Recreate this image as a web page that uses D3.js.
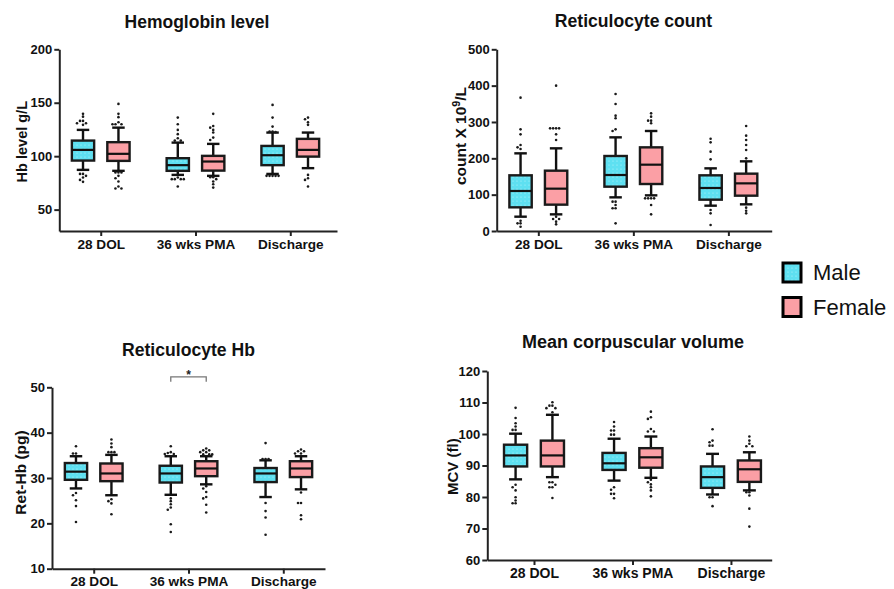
<!DOCTYPE html>
<html>
<head>
<meta charset="utf-8">
<script src="https://cdn.jsdelivr.net/npm/d3@7"></script>
<style>
body{margin:0;background:#fff}
svg text{font-family:"Liberation Sans",Arial,Helvetica,sans-serif}
</style>
</head>
<body>
<svg id="chart" width="894" height="589"></svg>
<script>
var categories = ["28 DOL", "36 wks PMA", "Discharge"];
var sexes = ["Male", "Female"];

// box stats per category: [low whisker, Q1, median, Q3, high whisker]
var hbMale   = [[87.2,95.9,105.9,114.6,124.6],[82.5,86.3,91.6,98.1,112.7],[83.4,91.6,100.9,109.6,122.1]];
var hbFemale = [[86.3,95.6,102.2,113.1,126.7],[81.6,86.5,95.0,100.3,111.5],[88.8,99.6,105.9,116.2,122.1]];
var hbMaleDots = [
  [139.6,137,133,133,130.8,130.8,129.3,83.4,83.4,81.6,80,77.8,76],
  [136.1,129.9,124.6,120.6,116.8,114.6,114.6,80,78.5,78.5,78.5,78.5,71.6],
  [148,136.1,127.7,123,123,122.5,81.6,81.6,81.6,81.6,81.6]];
var hbFemaleDots = [
  [148.9,139.6,136.5,131.8,129.9,129.9,129.9,84.7,84.7,84.7,81.6,79.4,76.3,71.6,69.7,69.7],
  [139.6,128.3,126.7,124.6,122.1,117.4,115.2,80.4,80.4,78.5,76.3,73.8,70.6],
  [136.1,134.6,131.8,129.3,82.5,79.4,77.8,71.6]];
var hbTicks = [50, 100, 150, 200];

var retMale   = [[39.4,65.1,110.1,153.2,213.7],[92.6,122,154.1,206.4,257.7],[69.7,86.2,118.3,153.2,172.4]];
var retFemale = [[45.8,72.5,116.5,166,227.5],[98.1,129.3,182.5,230.2,275.2],[73.4,97.2,131.1,157.8,191.7]];
var retMaleDots = [
  [366.9,279.7,266,236.7,230.2,225.7,28.4,21.1,21.1,11.9],
  [377,349.5,317.4,310.1,279.7,275.2,80.7,80.7,71.5,62.4,62.4,21.1],
  [254,244,218.3,197.2,57.8,48.6,16.5]];
var retFemaleDots = [
  [400,282.5,282.5,282.5,282.5,266,250.4,39.5,33,33,25.7,18.3],
  [323.8,314.7,303.6,303.6,296.3,89.9,89.9,89.9,89.9,71.5,45.8],
  [289,262.4,250.4,236.7,222.9,199.9,64.2,55.9,48.6]];
var retTicks = [0, 100, 200, 300, 400, 500];

var rhbMale   = [[27.7,29.6,31.4,33.3,34.8],[26.3,29.0,31.0,32.7,34.8],[25.8,29.1,31.0,32.2,33.9]];
var rhbFemale = [[26.2,29.3,31.0,33.2,35.1],[28.6,30.4,32.1,33.7,34.8],[27.5,30.2,32.1,33.7,34.8]];
var rhbMaleDots = [
  [37.0,35.4,35.4,26.7,26.2,25.1,23.8,20.3],
  [37.0,35.7,35.5,35.3,35.3,25.5,24.9,24.2,23.5,23.0,19.8,18.1],
  [37.7,34.2,34.2,34.2,24.5,22.7,21.3,17.5]];
var rhbFemaleDots = [
  [38.5,37.6,36.8,35.7,35.7,35.7,25.3,24.9,24.4,22.0],
  [36.5,36.1,36.1,35.7,35.7,35.2,35.2,35.2,28.2,27.7,26.9,25.8,25.5,24.1,22.4],
  [36.3,35.9,35.9,35.4,35.4,26.8,24.5,24.5,21.8,20.9]];
var rhbTicks = [10, 20, 30, 40, 50];

var mcvMale   = [[85.6,89.7,93.2,96.6,100.1],[85.2,88.6,90.7,94.0,98.5],[80.8,82.9,86.3,89.7,93.7]];
var mcvFemale = [[86.3,89.7,93.2,97.9,106.1],[86.1,89.3,92.6,95.5,99.2],[82.1,84.8,88.8,91.6,94.2]];
var mcvMaleDots = [
  [108.3,105.1,103.4,102.4,101.3,101.3,83.9,83.1,82.1,79.9,78.9,78.0,78.0],
  [103.8,102.4,101.1,101.1,99.8,99.8,83.1,82.3,81.0,81.0,79.6],
  [101.5,97.9,97.4,96.3,96.3,79.9,79.9,77.1]];
var mcvFemaleDots = [
  [110.1,109,109,108.2,108.2,106.9,84.7,84.7,83.9,83.1,83.1,79.7],
  [107.1,105.3,104.8,101.6,100.8,100.8,85.5,84.7,84.0,83.1,82.1,80.2],
  [99.2,97.9,96.9,96.1,96.1,81.5,81.5,80.5,76.3,70.6]];
var mcvTicks = [60, 70, 80, 90, 100, 110, 120];

var maleColor = "#5ee0f1";
var femaleColor = "#fb9fa5";

var svg = d3.select("#chart");

var defs = svg.append("defs");
var pat = defs.append("pattern")
    .attr("id", "maleFill")
    .attr("width", 4).attr("height", 4)
    .attr("patternUnits", "userSpaceOnUse");
pat.append("rect").attr("width", 4).attr("height", 4).attr("fill", maleColor);
pat.append("circle").attr("cx", 1).attr("cy", 1).attr("r", 0.6)
    .attr("fill", "#ffffff").attr("opacity", 0.55);

var panels = [
  {title:"Hemoglobin level", yTitle:["Hb level g/L"], male:hbMale, female:hbFemale,
   maleDots:hbMaleDots, femaleDots:hbFemaleDots, domain:[30,200], ticks:hbTicks,
   x0:59.3, x1:337, yTop:49.3, yBot:231, pad:0.465, align:0.47,
   titleSize:17.5, titleX:197, titleY:27.7, yTitleSize:14.5, yTitleX:26.7, yTitleY:141.7, xLabelSize:13.6},
  {title:"Reticulocyte count", yTitle:["count X 10","9","/L"], male:retMale, female:retFemale,
   maleDots:retMaleDots, femaleDots:retFemaleDots, domain:[0,500], ticks:retTicks,
   x0:496.7, x1:771.7, yTop:49.3, yBot:231, pad:0.447, align:0.49,
   titleSize:17.6, titleX:633.5, titleY:26.8, yTitleSize:15.5, yTitleX:465.5, yTitleY:136, xLabelSize:13.6},
  {title:"Reticulocyte Hb", yTitle:["Ret-Hb (pg)"], male:rhbMale, female:rhbFemale,
   maleDots:rhbMaleDots, femaleDots:rhbFemaleDots, domain:[10,50], ticks:rhbTicks,
   x0:52, x1:325, yTop:387.3, yBot:568.7, pad:0.44, align:0.5,
   titleSize:17.6, titleX:188.5, titleY:356, yTitleSize:15.5, yTitleX:26.3, yTitleY:472.5, xLabelSize:13.6},
  {title:"Mean corpuscular volume", yTitle:["MCV (fl)"], male:mcvMale, female:mcvFemale,
   maleDots:mcvMaleDots, femaleDots:mcvFemaleDots, domain:[60,120], ticks:mcvTicks,
   x0:487.3, x1:771.7, yTop:371, yBot:560, pad:0.444, align:0.534,
   titleSize:18, titleX:633, titleY:347.5, yTitleSize:15, yTitleX:457.5, yTitleY:466.7, xLabelSize:14}
];

// place dots of equal height side by side (deterministic, no randomness)
var swarm = function(values, yScale, cx)
{
    var placed = [];
    var offsets = [0, -3, 3, -6, 6, -9, 9];
    values.forEach(function(v)
    {
        var y = yScale(v);
        for (var k = 0; k < offsets.length; k++)
        {
            var x = cx + offsets[k];
            var hit = placed.some(function(p){ return Math.abs(p.x - x) < 2.6 && Math.abs(p.y - y) < 2.6; });
            if (!hit || k == offsets.length - 1) { placed.push({x:x, y:y}); break; }
        }
    });
    return placed;
}

var drawPanel = function(p)
{
    var g = svg.append("g");

    var xScale = d3.scalePoint()
        .domain(categories)
        .range([p.x0, p.x1])
        .padding(p.pad)
        .align(p.align);

    var yScale = d3.scaleLinear()
        .domain(p.domain)
        .range([p.yBot, p.yTop]);

    var step = xScale.step();
    var boxW = step * 0.235;
    var shift = step * 0.187;
    var capW = boxW * 0.28;

    var groups = [
        {sex:"Male", stats:p.male, dots:p.maleDots, dx:-shift, fill:"url(#maleFill)"},
        {sex:"Female", stats:p.female, dots:p.femaleDots, dx:shift, fill:femaleColor}
    ];

    groups.forEach(function(s)
    {
        categories.forEach(function(c, i)
        {
            var st = s.stats[i];
            var cx = xScale(c) + s.dx;
            var b = g.append("g");

            // whiskers
            b.append("line").attr("x1", cx).attr("x2", cx)
                .attr("y1", yScale(st[0])).attr("y2", yScale(st[1]))
                .attr("stroke", "#111").attr("stroke-width", 2.4);
            b.append("line").attr("x1", cx).attr("x2", cx)
                .attr("y1", yScale(st[3])).attr("y2", yScale(st[4]))
                .attr("stroke", "#111").attr("stroke-width", 2.4);
            [st[0], st[4]].forEach(function(v)
            {
                b.append("line").attr("x1", cx - capW).attr("x2", cx + capW)
                    .attr("y1", yScale(v)).attr("y2", yScale(v))
                    .attr("stroke", "#111").attr("stroke-width", 2.4);
            });

            b.append("rect")
                .attr("x", cx - boxW / 2)
                .attr("y", yScale(st[3]))
                .attr("width", boxW)
                .attr("height", yScale(st[1]) - yScale(st[3]))
                .attr("fill", s.fill)
                .attr("stroke", "#1a1a1a")
                .attr("stroke-width", 2.4);

            b.append("line").attr("x1", cx - boxW / 2).attr("x2", cx + boxW / 2)
                .attr("y1", yScale(st[2])).attr("y2", yScale(st[2]))
                .attr("stroke", "#111").attr("stroke-width", 2.2);

            b.selectAll("circle")
                .data(swarm(s.dots[i], yScale, cx))
                .enter()
                .append("circle")
                .attr("cx", function(d){ return d.x; })
                .attr("cy", function(d){ return d.y; })
                .attr("r", 1.3)
                .attr("fill", "#1a1a1a");
        });
    });

    var yAxis = d3.axisLeft(yScale).tickValues(p.ticks).tickSize(5).tickSizeOuter(0).tickPadding(2);
    var xAxis = d3.axisBottom(xScale).tickSize(5).tickSizeOuter(0).tickPadding(3);

    var ya = g.append("g")
        .attr("transform", "translate(" + p.x0 + ",0)")
        .call(yAxis);
    var xa = g.append("g")
        .attr("transform", "translate(0," + p.yBot + ")")
        .call(xAxis);

    [ya, xa].forEach(function(a)
    {
        a.select(".domain").attr("stroke", "#222").attr("stroke-width", 2);
        a.selectAll(".tick line").attr("stroke", "#222").attr("stroke-width", 2);
        a.selectAll("text").attr("fill", "#111").style("font-weight", "bold")
            .style("font-family", "'Liberation Sans', Arial, sans-serif");
    });
    ya.selectAll("text").style("font-size", "13px");
    xa.selectAll("text").style("font-size", p.xLabelSize + "px");

    g.append("text")
        .attr("x", p.titleX).attr("y", p.titleY)
        .attr("text-anchor", "middle")
        .style("font-weight", "bold")
        .style("font-size", p.titleSize + "px")
        .attr("fill", "#111")
        .text(p.title);

    var yt = g.append("text")
        .attr("transform", "translate(" + p.yTitleX + "," + p.yTitleY + ") rotate(-90)")
        .attr("text-anchor", "middle")
        .style("font-weight", "bold")
        .style("font-size", p.yTitleSize + "px")
        .attr("fill", "#111");
    yt.append("tspan").text(p.yTitle[0]);
    if (p.yTitle.length > 1)
    {
        yt.append("tspan").attr("dy", -6).style("font-size", (p.yTitleSize * 0.7) + "px").text(p.yTitle[1]);
        yt.append("tspan").attr("dy", 6).text(p.yTitle[2]);
    }

    return {x:xScale, y:yScale, shift:shift};
}

var scales = panels.map(drawPanel);

// significance bracket, Reticulocyte Hb at 36 wks PMA
var sp = scales[2];
var bx1 = sp.x(categories[1]) - sp.shift;
var bx2 = sp.x(categories[1]) + sp.shift;
var by = sp.y(52.3);
svg.append("path")
    .attr("d", "M" + bx1 + "," + (by + 5) + "V" + by + "H" + bx2 + "V" + (by + 5))
    .attr("fill", "none").attr("stroke", "#777").attr("stroke-width", 1.3);
svg.append("text")
    .attr("x", (bx1 + bx2) / 2).attr("y", by + 2)
    .attr("text-anchor", "middle")
    .style("font-size", "12px").style("font-weight", "bold")
    .attr("fill", "#222")
    .text("*");

// legend
var legend = svg.append("g").attr("transform", "translate(783,263)");
sexes.forEach(function(s, i)
{
    legend.append("rect")
        .attr("x", 0).attr("y", i * 34.5)
        .attr("width", 18).attr("height", 19)
        .attr("fill", i == 0 ? "url(#maleFill)" : femaleColor)
        .attr("stroke", "#000").attr("stroke-width", 3);
    legend.append("text")
        .attr("x", 30).attr("y", i * 34.5 + 17)
        .style("font-size", "22px")
        .attr("fill", "#111")
        .text(s);
});
</script>
</body>
</html>
